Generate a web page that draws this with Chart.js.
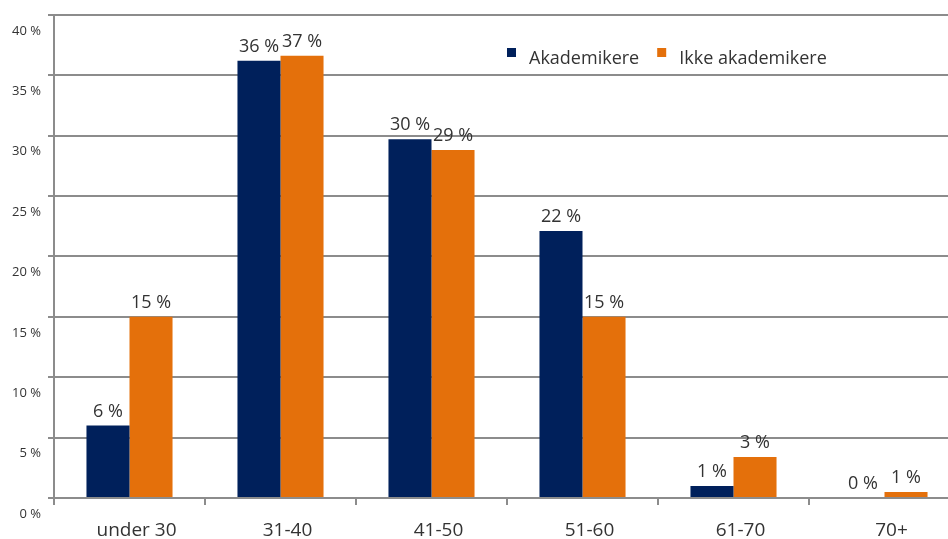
<!DOCTYPE html>
<html>
<head>
<meta charset="utf-8">
<script src="https://cdn.jsdelivr.net/npm/chart.js@4"></script>
<style>
  html, body { margin: 0; padding: 0; background: #fff; overflow: hidden; }
  #wrap { width: 948px; height: 539px; overflow: hidden; }
</style>
</head>
<body>
<div id="wrap"><canvas id="ageChart" width="960" height="539"></canvas></div>
<script>
// Aldersfordeling
const categories = ["under 30", "31-40", "41-50", "51-60", "61-70", "70+"];
const akademikere = [6.0, 36.2, 29.7, 22.1, 1.0, 0];
const ikkeAkademikere = [15.0, 36.6, 28.8, 15.0, 3.4, 0.5];
const seriesNames = ["Akademikere", "Ikke akademikere"];
const seriesColors = ["#00205b", "#e4700b"];
const yTicks = [0, 5, 10, 15, 20, 25, 30, 35, 40];

const fontFamily = "'Open Sans', 'Liberation Sans', sans-serif";
const textColor = "#333333";
const gridColor = "#8c8c8c";

// verdier over stolpene
const valueLabels = {
    id: "valueLabels",
    afterDatasetsDraw(chart) {
        const ctx = chart.ctx;
        ctx.save();
        ctx.font = "18px " + fontFamily;
        ctx.fillStyle = textColor;
        ctx.textAlign = "center";
        ctx.textBaseline = "bottom";
        chart.data.datasets.forEach((ds, i) => {
            chart.getDatasetMeta(i).data.forEach((bar, j) => {
                ctx.fillText(Math.round(ds.data[j]) + " %", bar.x, bar.y - 5);
            });
        });
        ctx.restore();
    }
};

// forklaring inne i plottet
const innerLegend = {
    id: "innerLegend",
    afterDraw(chart) {
        const ctx = chart.ctx;
        ctx.save();
        ctx.font = "18px " + fontFamily;
        ctx.textBaseline = "middle";
        let x = 507;
        const y = 59;
        chart.data.datasets.forEach(ds => {
            ctx.fillStyle = ds.backgroundColor;
            ctx.fillRect(x, y - 11, 9, 9);
            ctx.fillStyle = textColor;
            ctx.fillText(ds.label, x + 22, y);
            x += 22 + ctx.measureText(ds.label).width + 18;
        });
        ctx.restore();
    }
};

new Chart(document.getElementById("ageChart"), {
    type: "bar",
    data: {
        labels: categories,
        datasets: [
            { label: seriesNames[0], data: akademikere, backgroundColor: seriesColors[0] },
            { label: seriesNames[1], data: ikkeAkademikere, backgroundColor: seriesColors[1] }
        ]
    },
    options: {
        responsive: false,
        animation: false,
        layout: { padding: { top: 14, right: 0, left: 0, bottom: 0 } },
        datasets: {
            bar: { categoryPercentage: 0.57, barPercentage: 1.0 }
        },
        plugins: {
            legend: { display: false },
            tooltip: { enabled: false }
        },
        scales: {
            x: {
                grid: {
                    offset: true,
                    drawOnChartArea: false,
                    color: gridColor,
                    lineWidth: 2,
                    tickLength: 7
                },
                border: { color: gridColor, width: 2 },
                ticks: {
                    color: textColor,
                    font: { family: fontFamily, size: 19 },
                    labelOffset: 7,
                    padding: 14
                },
                afterFit(scale) { scale.height = 41; }
            },
            y: {
                min: 0,
                max: 40,
                afterBuildTicks(scale) {
                    scale.ticks = yTicks.map(v => ({ value: v }));
                },
                grid: {
                    color: gridColor,
                    lineWidth: 2,
                    tickLength: 6
                },
                border: { color: gridColor, width: 2 },
                ticks: {
                    color: textColor,
                    font: { family: fontFamily, size: 13 },
                    labelOffset: 16,
                    padding: 7,
                    callback: v => v + " %"
                },
                afterFit(scale) { scale.width = 54; }
            }
        }
    },
    plugins: [valueLabels, innerLegend]
});
</script>
</body>
</html>
